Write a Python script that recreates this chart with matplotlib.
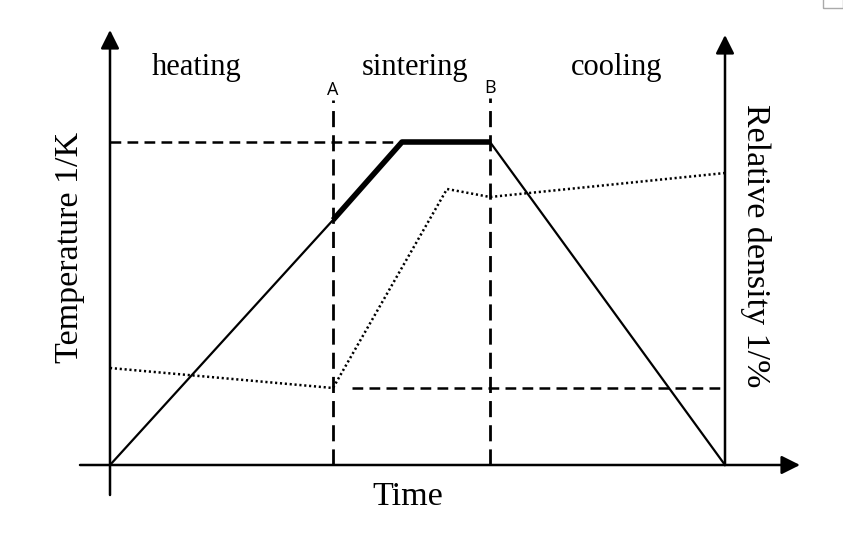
import matplotlib.pyplot as plt
from matplotlib.patches import Rectangle

# schematic in pixel-like units: x = time from origin, y = height above the time axis
timePoints = [0, 223, 292, 380, 615]
temperature = [0, 245, 323, 323, 0]
sinterTime = [223, 292, 380]
sinterTemp = [245, 323, 323]
densityTime = [0, 223, 337, 380, 615]
density = [97, 77, 276, 268, 292]
markA, markB = 223, 380
phaseNames = ["heating", "sintering", "cooling"]
phaseX = [87, 305, 507]

serif = "Liberation Serif"

fig = plt.figure(figsize=(8.43, 5.39), dpi=100)
ax = fig.add_axes([0, 0, 1, 1])
ax.set_xlim(-110, 733)
ax.set_ylim(-74, 465)
ax.axis("off")

arrow = dict(arrowstyle="-|>", mutation_scale=28, lw=1.8, color="black", shrinkA=0, shrinkB=0)
# axes
ax.annotate("", xy=(690, 0), xytext=(-30, 0), arrowprops=arrow)
ax.annotate("", xy=(0, 435), xytext=(0, -30), arrowprops=arrow)
ax.annotate("", xy=(615, 430), xytext=(615, 0), arrowprops=arrow)

# guide lines
vdash = dict(color="black", lw=2.0, ls=(0, (5.8, 2.9)))
hdash = dict(color="black", lw=1.8, ls=(0, (4.3, 2.5)))
ax.plot([markA, markA], [0, 365], **vdash)
ax.plot([markB, markB], [0, 367], **vdash)
ax.plot([0, 292], [323, 323], **hdash)
ax.plot([242, 612], [77, 77], **hdash)

# temperature profile
ax.plot(timePoints, temperature, color="black", lw=1.6)
ax.plot(sinterTime, sinterTemp, color="black", lw=4, solid_capstyle="butt")

# relative density
ax.plot(densityTime, density, color="black", lw=1.8, ls=(0, (0.85, 1.1)))

# labels
for name, x in zip(phaseNames, phaseX):
    ax.text(x, 397, name, fontsize=22, family=serif, ha="center", va="center")
ax.text(markA, 375, "A", fontsize=13, family="Open Sans", ha="center", va="center")
ax.text(markB, 377, "B", fontsize=13, family="Open Sans", ha="center", va="center")
ax.text(298, -32, "Time", fontsize=24.5, family=serif, ha="center", va="center")
ax.text(-40, 218, "Temperature 1/K", fontsize=24.5, family=serif, rotation=90,
        ha="center", va="center")
ax.text(646, 219, "Relative density 1/%", fontsize=24.5, family=serif, rotation=-90,
        ha="center", va="center")

# small box in the corner
ax.add_patch(Rectangle((713, 457), 20, 10, fill=False, ec="#aaaaaa", lw=1))

fig.savefig("out.png", dpi=100, facecolor="white")
